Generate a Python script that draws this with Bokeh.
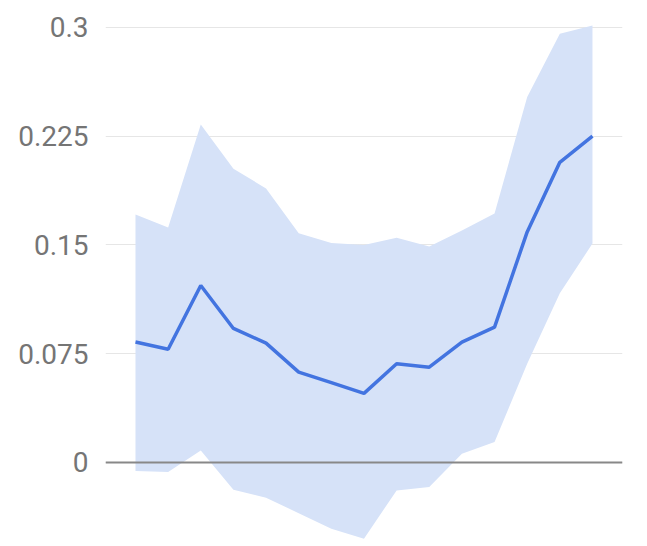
from bokeh.plotting import figure
from bokeh.models import Range1d, Span, FixedTicker, CustomJSTickFormatter
from bokeh.embed import file_html
from bokeh.resources import INLINE

idx = list(range(15))
mean = [0.083, 0.078, 0.122, 0.0924, 0.0823, 0.0623, 0.055, 0.0476, 0.068, 0.0657,
        0.083, 0.0933, 0.159, 0.207, 0.225]
upper = [0.171, 0.162, 0.233, 0.2025, 0.189, 0.158, 0.1513, 0.150, 0.155, 0.149,
         0.160, 0.1716, 0.252, 0.2956, 0.3014]
lower = [-0.006, -0.0067, 0.0083, -0.0188, -0.0244, -0.035, -0.0457, -0.0526, -0.0193, -0.017,
         0.006, 0.014, 0.068, 0.1166, 0.151]
ticks = [0, 0.075, 0.15, 0.225, 0.3]
tick_labels = ["0", "0.075", "0.15", "0.225", "0.3"]

p = figure(width=633, height=546, output_backend="svg", toolbar_location=None,
           x_range=Range1d(-0.919, 14.92), y_range=Range1d(-0.058, 0.3186))
p.min_border_left = 105
p.min_border_right = 11
p.min_border_top = 0
p.min_border_bottom = 0
p.outline_line_color = None
p.xaxis.visible = False
p.xgrid.visible = False

p.yaxis.ticker = FixedTicker(ticks=ticks)
p.yaxis.formatter = CustomJSTickFormatter(
    args=dict(t=ticks, l=tick_labels),
    code="for (let i = 0; i < t.length; i++) { if (Math.abs(tick - t[i]) < 1e-9) return l[i]; } return '';")
p.yaxis.axis_line_color = None
p.yaxis.major_tick_line_color = None
p.yaxis.minor_tick_line_color = None
p.yaxis.major_tick_out = 0
p.yaxis.major_tick_in = 0
p.yaxis.major_label_standoff = 17
p.yaxis.major_label_text_font = "Roboto"
p.yaxis.major_label_text_font_size = "28px"
p.yaxis.major_label_text_color = "#757575"
p.ygrid.ticker = FixedTicker(ticks=ticks)
p.ygrid.grid_line_color = "#e6e6e6"
p.ygrid.grid_line_width = 1

p.varea(x=idx, y1=lower, y2=upper, fill_color="#d6e2f8", fill_alpha=1.0)
p.add_layout(Span(location=0, dimension="width", line_color="#888888", line_width=2))
p.line(idx, mean, line_color="#4374e0", line_width=3.5)

open("out.html", "w").write(file_html(p, INLINE))
